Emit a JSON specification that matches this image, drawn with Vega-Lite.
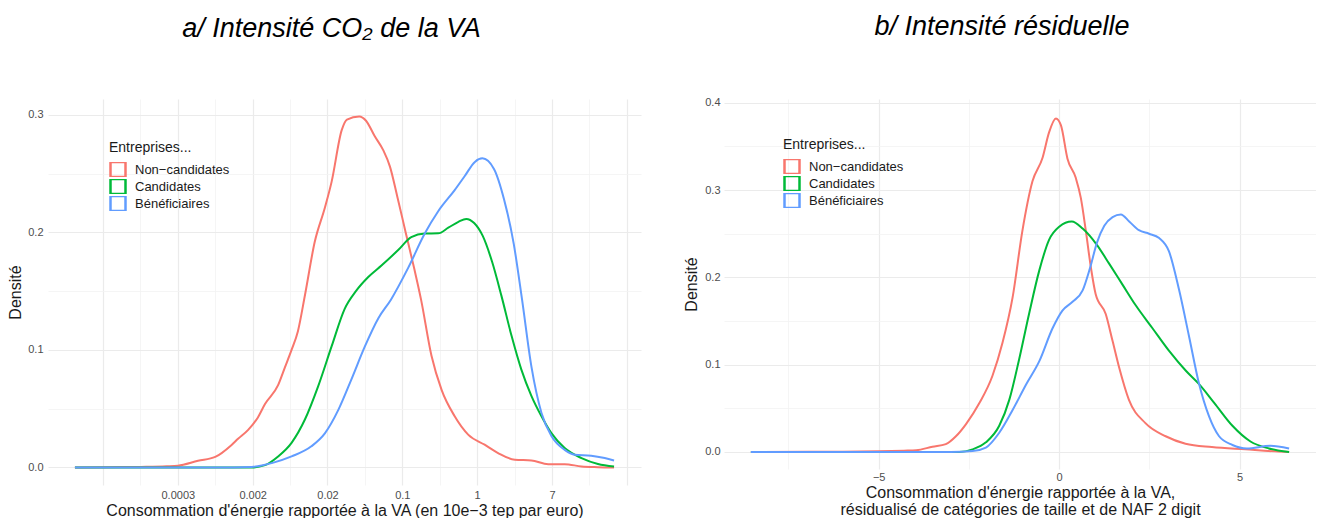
{
  "$schema": "https://vega.github.io/schema/vega-lite/v6.json",
  "background": "white",
  "padding": {"left": 7, "top": 12, "right": 0, "bottom": 0},
  "spacing": 42,
  "config": {
    "view": {"stroke": null},
    "font": "Liberation Sans",
    "axis": {
      "ticks": false,
      "domain": false,
      "labelFont": "Liberation Sans",
      "labelFontSize": 11,
      "labelColor": "#4D4D4D",
      "titleFont": "Liberation Sans",
      "titleFontSize": 16,
      "titleFontWeight": "normal",
      "titleColor": "#1A1A1A",
      "labelOverlap": false
    },
    "legend": {
      "orient": "none",
      "titleFont": "Liberation Sans",
      "titleFontSize": 14,
      "titleFontWeight": "normal",
      "titleColor": "#1A1A1A",
      "labelFont": "Liberation Sans",
      "labelFontSize": 13,
      "labelColor": "#1A1A1A",
      "symbolType": "square",
      "symbolSize": 225,
      "symbolStrokeWidth": 2.5,
      "symbolFillColor": "transparent",
      "clipHeight": 15,
      "rowPadding": 2,
      "labelOffset": 8,
      "titlePadding": 7
    },
    "title": {
      "font": "Liberation Sans",
      "fontSize": 27,
      "fontStyle": "italic",
      "fontWeight": "normal",
      "color": "#000000",
      "anchor": "middle"
    }
  },
  "datasets": {
    "a": [
      {"g": "Non−candidates", "x": -10.75, "y": 0},
      {"g": "Non−candidates", "x": -10, "y": 0.0002},
      {"g": "Non−candidates", "x": -9, "y": 0.0005},
      {"g": "Non−candidates", "x": -8.3, "y": 0.001},
      {"g": "Non−candidates", "x": -8, "y": 0.0015},
      {"g": "Non−candidates", "x": -7.46, "y": 0.0057},
      {"g": "Non−candidates", "x": -7.0, "y": 0.009},
      {"g": "Non−candidates", "x": -6.57, "y": 0.019},
      {"g": "Non−candidates", "x": -6.39, "y": 0.0244},
      {"g": "Non−candidates", "x": -6.12, "y": 0.032},
      {"g": "Non−candidates", "x": -5.86, "y": 0.0426},
      {"g": "Non−candidates", "x": -5.67, "y": 0.054},
      {"g": "Non−candidates", "x": -5.32, "y": 0.07},
      {"g": "Non−candidates", "x": -5.14, "y": 0.085},
      {"g": "Non−candidates", "x": -4.96, "y": 0.1},
      {"g": "Non−candidates", "x": -4.79, "y": 0.116},
      {"g": "Non−candidates", "x": -4.6, "y": 0.147},
      {"g": "Non−candidates", "x": -4.34, "y": 0.192},
      {"g": "Non−candidates", "x": -4.07, "y": 0.221},
      {"g": "Non−candidates", "x": -3.89, "y": 0.243},
      {"g": "Non−candidates", "x": -3.62, "y": 0.287},
      {"g": "Non−candidates", "x": -3.48, "y": 0.296},
      {"g": "Non−candidates", "x": -3.15, "y": 0.2986},
      {"g": "Non−candidates", "x": -2.97, "y": 0.295},
      {"g": "Non−candidates", "x": -2.74, "y": 0.282},
      {"g": "Non−candidates", "x": -2.51, "y": 0.27},
      {"g": "Non−candidates", "x": -2.33, "y": 0.256},
      {"g": "Non−candidates", "x": -2.13, "y": 0.23},
      {"g": "Non−candidates", "x": -1.91, "y": 0.2},
      {"g": "Non−candidates", "x": -1.68, "y": 0.169},
      {"g": "Non−candidates", "x": -1.5, "y": 0.143},
      {"g": "Non−candidates", "x": -1.22, "y": 0.095},
      {"g": "Non−candidates", "x": -0.95, "y": 0.066},
      {"g": "Non−candidates", "x": -0.6, "y": 0.0436},
      {"g": "Non−candidates", "x": -0.24, "y": 0.028},
      {"g": "Non−candidates", "x": 0.2, "y": 0.0194},
      {"g": "Non−candidates", "x": 0.56, "y": 0.0123},
      {"g": "Non−candidates", "x": 1.01, "y": 0.0066},
      {"g": "Non−candidates", "x": 1.45, "y": 0.006},
      {"g": "Non−candidates", "x": 1.9, "y": 0.0028},
      {"g": "Non−candidates", "x": 2.34, "y": 0.0028},
      {"g": "Non−candidates", "x": 2.79, "y": 0.0009},
      {"g": "Non−candidates", "x": 3.23, "y": 0.0003},
      {"g": "Non−candidates", "x": 3.66, "y": 0},
      {"g": "Candidates", "x": -10.75, "y": 0},
      {"g": "Candidates", "x": -7, "y": 0},
      {"g": "Candidates", "x": -6.03, "y": 0},
      {"g": "Candidates", "x": -5.67, "y": 0.002},
      {"g": "Candidates", "x": -5.32, "y": 0.0094},
      {"g": "Candidates", "x": -4.96, "y": 0.021},
      {"g": "Candidates", "x": -4.6, "y": 0.041},
      {"g": "Candidates", "x": -4.25, "y": 0.069},
      {"g": "Candidates", "x": -3.89, "y": 0.103},
      {"g": "Candidates", "x": -3.54, "y": 0.135},
      {"g": "Candidates", "x": -3.24, "y": 0.15},
      {"g": "Candidates", "x": -2.91, "y": 0.162},
      {"g": "Candidates", "x": -2.55, "y": 0.172},
      {"g": "Candidates", "x": -2.11, "y": 0.185},
      {"g": "Candidates", "x": -1.76, "y": 0.196},
      {"g": "Candidates", "x": -1.4, "y": 0.199},
      {"g": "Candidates", "x": -1.04, "y": 0.1992},
      {"g": "Candidates", "x": -0.77, "y": 0.204},
      {"g": "Candidates", "x": -0.5, "y": 0.209},
      {"g": "Candidates", "x": -0.29, "y": 0.2115},
      {"g": "Candidates", "x": -0.08, "y": 0.208},
      {"g": "Candidates", "x": 0.15, "y": 0.197},
      {"g": "Candidates", "x": 0.4, "y": 0.175},
      {"g": "Candidates", "x": 0.65, "y": 0.146},
      {"g": "Candidates", "x": 0.92, "y": 0.112},
      {"g": "Candidates", "x": 1.18, "y": 0.0835},
      {"g": "Candidates", "x": 1.45, "y": 0.061},
      {"g": "Candidates", "x": 1.72, "y": 0.0436},
      {"g": "Candidates", "x": 1.99, "y": 0.029},
      {"g": "Candidates", "x": 2.34, "y": 0.0165},
      {"g": "Candidates", "x": 2.79, "y": 0.008},
      {"g": "Candidates", "x": 3.23, "y": 0.003},
      {"g": "Candidates", "x": 3.66, "y": 0.0009},
      {"g": "Bénéficiaires", "x": -10.75, "y": 0},
      {"g": "Bénéficiaires", "x": -7, "y": 0},
      {"g": "Bénéficiaires", "x": -6.03, "y": 0.0005},
      {"g": "Bénéficiaires", "x": -5.49, "y": 0.0037},
      {"g": "Bénéficiaires", "x": -4.96, "y": 0.0094},
      {"g": "Bénéficiaires", "x": -4.43, "y": 0.018},
      {"g": "Bénéficiaires", "x": -4.07, "y": 0.029},
      {"g": "Bénéficiaires", "x": -3.71, "y": 0.049},
      {"g": "Bénéficiaires", "x": -3.36, "y": 0.075},
      {"g": "Bénéficiaires", "x": -3.0, "y": 0.103},
      {"g": "Bénéficiaires", "x": -2.64, "y": 0.127},
      {"g": "Bénéficiaires", "x": -2.3, "y": 0.143},
      {"g": "Bénéficiaires", "x": -1.84, "y": 0.17},
      {"g": "Bénéficiaires", "x": -1.4, "y": 0.199},
      {"g": "Bénéficiaires", "x": -1.04, "y": 0.218},
      {"g": "Bénéficiaires", "x": -0.6, "y": 0.236},
      {"g": "Bénéficiaires", "x": -0.33, "y": 0.248},
      {"g": "Bénéficiaires", "x": -0.06, "y": 0.26},
      {"g": "Bénéficiaires", "x": 0.14, "y": 0.263},
      {"g": "Bénéficiaires", "x": 0.45, "y": 0.254},
      {"g": "Bénéficiaires", "x": 0.72, "y": 0.228},
      {"g": "Bénéficiaires", "x": 0.98, "y": 0.19},
      {"g": "Bénéficiaires", "x": 1.2, "y": 0.143},
      {"g": "Bénéficiaires", "x": 1.45, "y": 0.086},
      {"g": "Bénéficiaires", "x": 1.72, "y": 0.0464},
      {"g": "Bénéficiaires", "x": 1.99, "y": 0.0265},
      {"g": "Bénéficiaires", "x": 2.34, "y": 0.015},
      {"g": "Bénéficiaires", "x": 2.61, "y": 0.0108},
      {"g": "Bénéficiaires", "x": 3.05, "y": 0.01},
      {"g": "Bénéficiaires", "x": 3.41, "y": 0.008},
      {"g": "Bénéficiaires", "x": 3.66, "y": 0.006}
    ],
    "b": [
      {"g": "Non−candidates", "x": -8.54, "y": 0},
      {"g": "Non−candidates", "x": -6, "y": 0.0003},
      {"g": "Non−candidates", "x": -5, "y": 0.0008},
      {"g": "Non−candidates", "x": -4.3, "y": 0.0015},
      {"g": "Non−candidates", "x": -3.96, "y": 0.002},
      {"g": "Non−candidates", "x": -3.51, "y": 0.006},
      {"g": "Non−candidates", "x": -3.14, "y": 0.009},
      {"g": "Non−candidates", "x": -2.86, "y": 0.018},
      {"g": "Non−candidates", "x": -2.58, "y": 0.032},
      {"g": "Non−candidates", "x": -2.21, "y": 0.056},
      {"g": "Non−candidates", "x": -1.85, "y": 0.087},
      {"g": "Non−candidates", "x": -1.57, "y": 0.125},
      {"g": "Non−candidates", "x": -1.29, "y": 0.177},
      {"g": "Non−candidates", "x": -1.02, "y": 0.253},
      {"g": "Non−candidates", "x": -0.74, "y": 0.31},
      {"g": "Non−candidates", "x": -0.46, "y": 0.337},
      {"g": "Non−candidates", "x": -0.28, "y": 0.366},
      {"g": "Non−candidates", "x": -0.09, "y": 0.382},
      {"g": "Non−candidates", "x": 0.05, "y": 0.374},
      {"g": "Non−candidates", "x": 0.23, "y": 0.336},
      {"g": "Non−candidates", "x": 0.46, "y": 0.314},
      {"g": "Non−candidates", "x": 0.6, "y": 0.291},
      {"g": "Non−candidates", "x": 0.74, "y": 0.253},
      {"g": "Non−candidates", "x": 0.88, "y": 0.211},
      {"g": "Non−candidates", "x": 1.01, "y": 0.181},
      {"g": "Non−candidates", "x": 1.29, "y": 0.158},
      {"g": "Non−candidates", "x": 1.48, "y": 0.127},
      {"g": "Non−candidates", "x": 1.66, "y": 0.097},
      {"g": "Non−candidates", "x": 1.93, "y": 0.06},
      {"g": "Non−candidates", "x": 2.39, "y": 0.033},
      {"g": "Non−candidates", "x": 2.95, "y": 0.018},
      {"g": "Non−candidates", "x": 3.5, "y": 0.0095},
      {"g": "Non−candidates", "x": 4.23, "y": 0.0057},
      {"g": "Non−candidates", "x": 5.16, "y": 0.003},
      {"g": "Non−candidates", "x": 6.08, "y": 0.0005},
      {"g": "Non−candidates", "x": 6.37, "y": 0},
      {"g": "Candidates", "x": -8.54, "y": 0},
      {"g": "Candidates", "x": -2.77, "y": 0},
      {"g": "Candidates", "x": -2.4, "y": 0.003},
      {"g": "Candidates", "x": -2.03, "y": 0.011},
      {"g": "Candidates", "x": -1.66, "y": 0.03},
      {"g": "Candidates", "x": -1.38, "y": 0.06},
      {"g": "Candidates", "x": -1.11, "y": 0.106},
      {"g": "Candidates", "x": -0.83, "y": 0.159},
      {"g": "Candidates", "x": -0.55, "y": 0.208},
      {"g": "Candidates", "x": -0.28, "y": 0.243},
      {"g": "Candidates", "x": 0, "y": 0.258},
      {"g": "Candidates", "x": 0.35, "y": 0.264},
      {"g": "Candidates", "x": 0.65, "y": 0.256},
      {"g": "Candidates", "x": 1.05, "y": 0.237},
      {"g": "Candidates", "x": 1.38, "y": 0.216},
      {"g": "Candidates", "x": 1.75, "y": 0.192},
      {"g": "Candidates", "x": 2.12, "y": 0.168},
      {"g": "Candidates", "x": 2.58, "y": 0.142},
      {"g": "Candidates", "x": 3.04, "y": 0.116},
      {"g": "Candidates", "x": 3.51, "y": 0.093},
      {"g": "Candidates", "x": 3.87, "y": 0.078},
      {"g": "Candidates", "x": 4.3, "y": 0.056},
      {"g": "Candidates", "x": 4.8, "y": 0.03},
      {"g": "Candidates", "x": 5.3, "y": 0.012},
      {"g": "Candidates", "x": 5.81, "y": 0.004},
      {"g": "Candidates", "x": 6.37, "y": 0},
      {"g": "Bénéficiaires", "x": -8.54, "y": 0},
      {"g": "Bénéficiaires", "x": -3, "y": 0},
      {"g": "Bénéficiaires", "x": -2.4, "y": 0.001},
      {"g": "Bénéficiaires", "x": -2.03, "y": 0.005},
      {"g": "Bénéficiaires", "x": -1.66, "y": 0.022},
      {"g": "Bénéficiaires", "x": -1.29, "y": 0.048},
      {"g": "Bénéficiaires", "x": -0.92, "y": 0.077},
      {"g": "Bénéficiaires", "x": -0.55, "y": 0.104},
      {"g": "Bénéficiaires", "x": -0.18, "y": 0.142},
      {"g": "Bénéficiaires", "x": 0.09, "y": 0.162},
      {"g": "Bénéficiaires", "x": 0.37, "y": 0.172},
      {"g": "Bénéficiaires", "x": 0.65, "y": 0.185},
      {"g": "Bénéficiaires", "x": 0.85, "y": 0.21},
      {"g": "Bénéficiaires", "x": 1.05, "y": 0.24},
      {"g": "Bénéficiaires", "x": 1.25, "y": 0.259},
      {"g": "Bénéficiaires", "x": 1.48, "y": 0.269},
      {"g": "Bénéficiaires", "x": 1.71, "y": 0.272},
      {"g": "Bénéficiaires", "x": 1.94, "y": 0.264},
      {"g": "Bénéficiaires", "x": 2.21, "y": 0.254},
      {"g": "Bénéficiaires", "x": 2.49, "y": 0.25},
      {"g": "Bénéficiaires", "x": 2.77, "y": 0.245},
      {"g": "Bénéficiaires", "x": 3.04, "y": 0.23},
      {"g": "Bénéficiaires", "x": 3.32, "y": 0.186},
      {"g": "Bénéficiaires", "x": 3.6, "y": 0.132},
      {"g": "Bénéficiaires", "x": 3.87, "y": 0.079},
      {"g": "Bénéficiaires", "x": 4.15, "y": 0.041},
      {"g": "Bénéficiaires", "x": 4.43, "y": 0.018},
      {"g": "Bénéficiaires", "x": 4.8, "y": 0.008},
      {"g": "Bénéficiaires", "x": 5.2, "y": 0.004},
      {"g": "Bénéficiaires", "x": 5.85, "y": 0.007},
      {"g": "Bénéficiaires", "x": 6.37, "y": 0.004}
    ]
  },
  "hconcat": [
    {
      "width": 593,
      "height": 386,
      "title": {"text": "a/ Intensité CO₂ de la VA", "dx": -13, "offset": 56},
      "data": {"name": "a"},
      "mark": {"type": "line", "strokeWidth": 2, "interpolate": "monotone"},
      "encoding": {
        "x": {
          "field": "x", "type": "quantitative",
          "scale": {"domain": [-11.47, 4.38], "nice": false, "zero": false},
          "axis": {
            "values": [-10, -9, -8, -7, -6, -5, -4, -3, -2, -1, 0, 1, 2, 3, 4],
            "labelExpr": "datum.value == -8 ? '0.0003' : datum.value == -6 ? '0.002' : datum.value == -4 ? '0.02' : datum.value == -2 ? '0.1' : datum.value == 0 ? '1' : datum.value == 2 ? '7' : ''",
            "gridColor": {"condition": {"test": "datum.value % 2 != 0", "value": "#F3F3F3"}, "value": "#EBEBEB"},
            "gridWidth": {"condition": {"test": "datum.value % 2 != 0", "value": 0.8}, "value": 1.2},
            "labelPadding": 4,
            "titlePadding": 2,
            "title": "Consommation d'énergie rapportée à la VA (en 10e−3 tep par euro)"
          }
        },
        "y": {
          "field": "y", "type": "quantitative",
          "scale": {"domain": [-0.0149, 0.3135], "nice": false, "zero": false},
          "axis": {
            "values": [0, 0.05, 0.1, 0.15, 0.2, 0.25, 0.3],
            "labelExpr": "round(datum.value * 20) % 2 == 0 ? format(datum.value, '.1f') : ''",
            "gridColor": {"condition": {"test": "round(datum.value * 20) % 2 != 0", "value": "#F3F3F3"}, "value": "#EBEBEB"},
            "gridWidth": {"condition": {"test": "round(datum.value * 20) % 2 != 0", "value": 0.8}, "value": 1.2},
            "labelPadding": 5,
            "titlePadding": 4,
            "title": "Densité"
          }
        },
        "color": {
          "field": "g", "type": "nominal",
          "scale": {"domain": ["Non−candidates", "Candidates", "Bénéficiaires"], "range": ["#F8766D", "#00BA38", "#619CFF"]},
          "legend": {"title": "Entreprises...", "legendX": 61, "legendY": 42}
        }
      }
    },
    {
      "width": 592,
      "height": 370,
      "title": {"text": "b/ Intensité résiduelle", "dx": -18, "offset": 56},
      "data": {"name": "b"},
      "mark": {"type": "line", "strokeWidth": 2, "interpolate": "monotone"},
      "encoding": {
        "x": {
          "field": "x", "type": "quantitative",
          "scale": {"domain": [-9.285, 7.115], "nice": false, "zero": false},
          "axis": {
            "values": [-7.5, -5, -2.5, 0, 2.5, 5],
            "labelExpr": "datum.value % 5 == 0 ? format(datum.value, 'd') : ''",
            "gridColor": {"condition": {"test": "datum.value % 5 != 0", "value": "#F3F3F3"}, "value": "#EBEBEB"},
            "gridWidth": {"condition": {"test": "datum.value % 5 != 0", "value": 0.8}, "value": 1.2},
            "labelPadding": 2,
            "titlePadding": 2,
            "titleLineHeight": 17,
            "title": ["Consommation d'énergie rapportée à la VA,", "résidualisé de catégories de taille et de NAF 2 digit"]
          }
        },
        "y": {
          "field": "y", "type": "quantitative",
          "scale": {"domain": [-0.0195, 0.4043], "nice": false, "zero": false},
          "axis": {
            "values": [0, 0.05, 0.1, 0.15, 0.2, 0.25, 0.3, 0.35, 0.4],
            "labelExpr": "round(datum.value * 20) % 2 == 0 ? format(datum.value, '.1f') : ''",
            "gridColor": {"condition": {"test": "round(datum.value * 20) % 2 != 0", "value": "#F3F3F3"}, "value": "#EBEBEB"},
            "gridWidth": {"condition": {"test": "round(datum.value * 20) % 2 != 0", "value": 0.8}, "value": 1.2},
            "labelPadding": 4,
            "titlePadding": 5,
            "title": "Densité"
          }
        },
        "color": {
          "field": "g", "type": "nominal",
          "scale": {"domain": ["Non−candidates", "Candidates", "Bénéficiaires"], "range": ["#F8766D", "#00BA38", "#619CFF"]},
          "legend": {"title": "Entreprises...", "legendX": 59, "legendY": 39}
        }
      }
    }
  ],
  "resolve": {"scale": {"color": "independent"}, "legend": {"color": "independent"}}
}
